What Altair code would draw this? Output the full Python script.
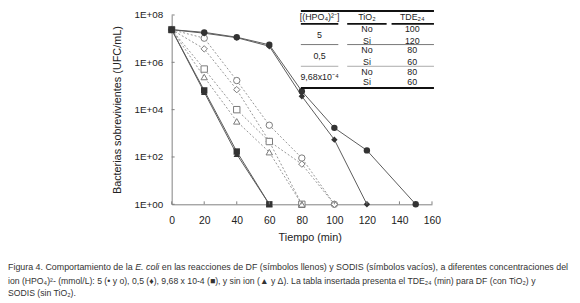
import altair as alt
import pandas as pd

# ---------------- data ----------------
x_ticks = [0, 20, 40, 60, 80, 100, 120, 140, 160]
y_ticks = [1, 1e2, 1e4, 1e6, 1e8]

t_df5 = [0, 20, 40, 60, 80, 100, 120, 150]
v_df5 = [2.4e7, 1.85e7, 1.15e7, 5.5e6, 6.0e4, 1.7e3, 1.9e2, 1]
t_df05 = [0, 20, 40, 60, 80, 100, 120]
v_df05 = [2.4e7, 1.7e7, 1.1e7, 4.8e6, 3.7e4, 5.4e2, 1]
t_df968 = [0, 20, 40, 60]
v_df968 = [2.4e7, 6.5e4, 1.7e2, 1]
t_df0 = [0, 20, 40, 60]
v_df0 = [2.4e7, 5.5e4, 1.3e2, 1]

t_so5 = [0, 20, 40, 60, 80, 100]
v_so5 = [2.4e7, 1.05e7, 1.7e5, 2.2e3, 9.0e1, 1]
t_so05 = [0, 20, 40, 60, 80, 100]
v_so05 = [2.4e7, 3.7e6, 7.0e4, 4.6e2, 5.0e1, 1]
t_so968 = [0, 20, 40, 60, 80]
v_so968 = [2.4e7, 5.2e5, 1.0e4, 4.5e2, 1]
t_so0 = [0, 20, 40, 60, 80]
v_so0 = [2.4e7, 2.4e5, 3.2e3, 1.6e2, 1]

table_header = ["[(HPO\u2084)\u00b2\u207b]", "TiO\u2082", "TDE\u2082\u2084"]
table_conc = ["5", "0,5", "9,68x10\u207b\u2074"]
table_tio2 = ["No", "Si", "No", "Si", "No", "Si"]
table_tde = ["100", "120", "80", "60", "80", "60"]

caption_1a = "Figura 4. Comportamiento de la"
caption_1b = "E. coli"
caption_1c = "en las reacciones de DF (s\u00edmbolos llenos) y SODIS (s\u00edmbolos vac\u00edos), a diferentes concentraciones del"
caption_2 = ("ion (HPO\u2084)\u00b2- (mmol/L): 5 (\u2022 y o), 0,5 (\u2666), 9,68 x 10-4  (\u25a0), y sin ion  (\u25b2 y \u0394). "
             "La tabla insertada presenta el TDE\u2082\u2084 (min) para DF (con TiO\u2082) y")
caption_3 = "SODIS (sin TiO\u2082)."

series = [
    ("DF 5", t_df5, v_df5, "filled", "circle"),
    ("DF 0.5", t_df05, v_df05, "filled", "diamond"),
    ("DF 9.68e-4", t_df968, v_df968, "filled", "square"),
    ("DF 0", t_df0, v_df0, "filled", "triangle-up"),
    ("SO 5", t_so5, v_so5, "open", "circle"),
    ("SO 0.5", t_so05, v_so05, "open", "diamond"),
    ("SO 9.68e-4", t_so968, v_so968, "open", "square"),
    ("SO 0", t_so0, v_so0, "open", "triangle-up"),
]
rows = []
for name, ts, vs, kind, shape in series:
    for t, v in zip(ts, vs):
        rows.append({"serie": name, "t": t, "v": v, "kind": kind, "shape": shape})
df = pd.DataFrame(rows)

# ---------------- geometry ----------------
W, H = 264, 192
OX, OY = 174, 13  # page position of plot origin


def px(x):
    return x - OX


def py(y):
    return y - OY


FONT = "Liberation Sans"
CAP_FONT = "Liberation Sans"

x_scale = alt.Scale(domain=[0, 160], nice=False, zero=False)
y_scale = alt.Scale(type="log", domain=[1, 1e8], nice=False)

x_axis = alt.Axis(values=x_ticks, title="Tiempo (min)", ticks=False, grid=False,
                  labelPadding=11, labelFontSize=10.5, labelFont=FONT, labelColor="#222",
                  labelOverlap=False,
                  titleFont=FONT, titleFontSize=11, titleFontWeight="normal", titleColor="#222",
                  titlePadding=6, titleX=140, titleAlign="center",
                  domainColor="#808080", labelFlush=False)
y_axis = alt.Axis(values=y_ticks, title="Bacterias sobrevivientes (UFC/mL)", ticks=False, grid=False,
                  labelExpr="'1E+' + (round(log(datum.value)/LN10) < 10 ? '0' : '') + round(log(datum.value)/LN10)",
                  labelPadding=9, labelFontSize=10, labelFont=FONT, labelColor="#222",
                  labelOverlap=False,
                  titleFont=FONT, titleFontSize=11, titleFontWeight="normal", titleColor="#222",
                  titlePadding=12, domainColor="#808080", labelFlush=False)

base = alt.Chart(df)
X = alt.X("t:Q", scale=x_scale, axis=x_axis)
Y = alt.Y("v:Q", scale=y_scale, axis=y_axis)

lines_open = base.transform_filter(alt.datum.kind == "open").mark_line(
    color="#8a8a8a", strokeWidth=0.9, strokeDash=[2, 2]).encode(x=X, y=Y, detail="serie:N")
lines_filled = base.transform_filter(alt.datum.kind == "filled").mark_line(
    color="#5a5a5a", strokeWidth=1).encode(x=X, y=Y, detail="serie:N")
pts_open = base.transform_filter(alt.datum.kind == "open").mark_point(
    filled=False, fill="white", fillOpacity=1, stroke="#7a7a7a", strokeWidth=1, size=42, opacity=1).encode(
    x=X, y=Y, shape=alt.Shape("shape:N", scale=None))
pts_filled = base.transform_filter(alt.datum.kind == "filled").mark_point(
    filled=True, color="#333333", size=42, opacity=1).encode(
    x=X, y=Y, shape=alt.Shape("shape:N", scale=None))

# inward ticks (same field names and axis specs so the shared axes merge cleanly)
xt = alt.Chart(pd.DataFrame({"t": x_ticks})).mark_rule(color="#808080").encode(
    x=alt.X("t:Q", scale=x_scale, axis=x_axis), y=alt.value(H - 3), y2=alt.value(H))
yt = alt.Chart(pd.DataFrame({"v": y_ticks})).mark_rule(color="#808080").encode(
    y=alt.Y("v:Q", scale=y_scale, axis=y_axis), x=alt.value(0), x2=alt.value(3))

one = pd.DataFrame({"a": [0]})


def hrule(x1, x2, y, w, color):
    return alt.Chart(one).mark_rule(color=color, strokeWidth=w).encode(
        x=alt.value(px(x1)), x2=alt.value(px(x2)), y=alt.value(py(y)))


def txt(x, y, s, size=9.5, font=FONT, align="center", style="normal", color="#222"):
    return alt.Chart(one).mark_text(text=s, fontSize=size, font=font, align=align, baseline="middle",
                                    fontStyle=style, color=color).encode(
        x=alt.value(px(x)), y=alt.value(py(y)))


table = [
    hrule(305, 440, 9, 2, "#111"),
    hrule(305, 343, 22, 2, "#111"), hrule(352, 392, 22, 2, "#111"), hrule(397, 440, 22, 2, "#111"),
    hrule(305, 343, 43, 1, "#777"), hrule(352, 440, 43, 1, "#777"),
    hrule(305, 343, 65, 1, "#aaa"), hrule(352, 440, 65, 1, "#aaa"),
    hrule(305, 440, 87, 2, "#111"),
]
for s, x in zip(table_header, [324, 372, 418]):
    table.append(txt(x, 15, s, size=9))
for s, y in zip(table_conc, [33, 55, 76]):
    table.append(txt(324, y, s, size=9))
for s, y in zip(table_tio2, [27, 39, 49, 61, 71, 81]):
    table.append(txt(372, y, s, size=9))
for s, y in zip(table_tde, [27, 39, 49, 61, 71, 81]):
    table.append(txt(418, y, s, size=9))

CS1 = 9.0
CS2 = 8.8
cap = [
    txt(8, 269, caption_1a, size=CS1, font=CAP_FONT, align="left", color="#333"),
    txt(137, 269, caption_1b, size=CS1, font=CAP_FONT, align="left", style="italic", color="#333"),
    txt(164, 269, caption_1c, size=CS1, font=CAP_FONT, align="left", color="#333"),
    txt(8, 283, caption_2, size=CS2, font=CAP_FONT, align="left", color="#333"),
    txt(8, 295, caption_3, size=CS2, font=CAP_FONT, align="left", color="#333"),
]

chart = alt.layer(
    lines_open, lines_filled, pts_open, pts_filled, xt, yt, *table, *cap
).properties(
    width=W, height=H,
    padding={"left": OX - 8, "top": OY - 8, "right": 572 - (OX - 8) - W, "bottom": 295 - (OY - 8) - H},
    autosize=alt.AutoSizeParams(type="none"),
).configure_view(stroke=None).configure_axis(titleFontWeight="normal")

chart.save("out.html", embed_options={"renderer": "svg", "actions": False})
